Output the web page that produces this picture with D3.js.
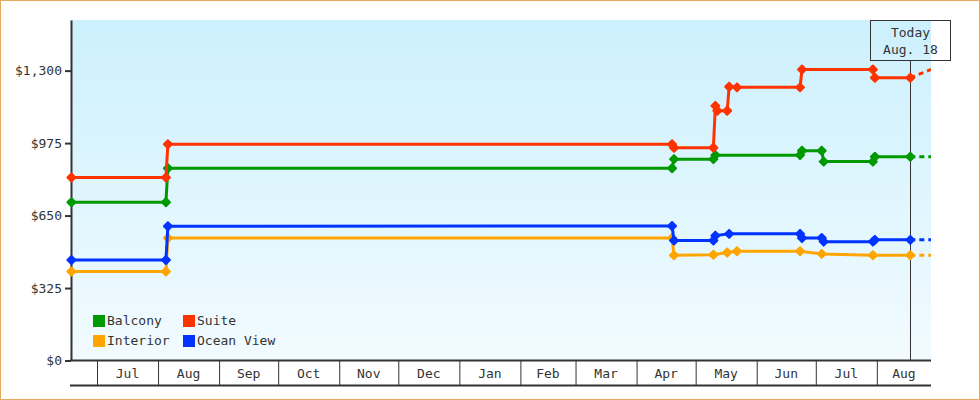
<!DOCTYPE html>
<html><head><meta charset="utf-8">
<script src="https://cdn.jsdelivr.net/npm/d3@7"></script>
<style>
html,body{margin:0;padding:0;background:#fff;}
svg{display:block;}
text{font-family:"DejaVu Sans Mono",monospace;font-size:13px;fill:#333;}
</style></head><body>
<svg id="chart" width="980" height="400"></svg>
<script>
// ---- data ----
const seriesNames = ["Balcony", "Suite", "Interior", "Ocean View"];
const seriesColors = ["#009900", "#ff3300", "#ffa500", "#0033ff"];

const balcony = [
  ["2017-06-18", 710], ["2017-08-05", 710], ["2017-08-06", 862], ["2018-04-19", 862],
  ["2018-04-20", 903], ["2018-05-10", 903], ["2018-05-11", 921], ["2018-06-23", 921],
  ["2018-06-24", 941], ["2018-07-04", 941], ["2018-07-05", 892], ["2018-07-30", 892],
  ["2018-07-31", 914], ["2018-08-18", 914]
];
const suite = [
  ["2017-06-18", 821], ["2017-08-05", 821], ["2017-08-06", 970], ["2018-04-19", 970],
  ["2018-04-20", 954], ["2018-05-10", 954], ["2018-05-11", 1142], ["2018-05-12", 1120],
  ["2018-05-17", 1120], ["2018-05-18", 1228], ["2018-05-22", 1225], ["2018-06-23", 1225],
  ["2018-06-24", 1305], ["2018-07-30", 1305], ["2018-07-31", 1268], ["2018-08-18", 1268]
];
const interior = [
  ["2017-06-18", 399], ["2017-08-05", 399], ["2017-08-06", 549], ["2018-04-19", 549],
  ["2018-04-20", 472], ["2018-05-10", 474], ["2018-05-17", 484], ["2018-05-22", 490],
  ["2018-06-23", 490], ["2018-07-04", 478], ["2018-07-30", 472], ["2018-08-18", 472]
];
const oceanView = [
  ["2017-06-18", 451], ["2017-08-05", 451], ["2017-08-06", 602], ["2018-04-19", 603],
  ["2018-04-20", 538], ["2018-05-10", 538], ["2018-05-11", 560], ["2018-05-18", 568],
  ["2018-06-23", 568], ["2018-06-24", 549], ["2018-07-04", 549], ["2018-07-05", 533],
  ["2018-07-30", 533], ["2018-07-31", 541], ["2018-08-18", 541]
];
// projected value at the end of the axis (dashed part)
const forecastValues = [914, 1305, 472, 541];

const yTicks = [0, 325, 650, 975, 1300];
const monthStarts = ["2017-07-01","2017-08-01","2017-09-01","2017-10-01","2017-11-01","2017-12-01",
  "2018-01-01","2018-02-01","2018-03-01","2018-04-01","2018-05-01","2018-06-01","2018-07-01","2018-08-01"];
const monthLabels = ["Jul","Aug","Sep","Oct","Nov","Dec","Jan","Feb","Mar","Apr","May","Jun","Jul","Aug"];
const todayDate = "2018-08-18";
const todayLabel = ["Today", "Aug. 18"];
const xDomain = ["2017-06-18T00:00", "2018-08-28T12:00"];
const yMax = 1527;

// ---- drawing ----
const parse = d3.timeParse("%Y-%m-%d");
const parseT = d3.timeParse("%Y-%m-%dT%H:%M");
const allSeries = [balcony, suite, interior, oceanView];

const L = 71.4, R = 931, T = 20, B = 360.5;
const svg = d3.select("#chart");

const x = d3.scaleTime().domain(xDomain.map(parseT)).range([L, R]);
const y = d3.scaleLinear().domain([0, yMax]).range([B, T]);

// border
svg.append("rect").attr("x", 0.5).attr("y", 0.5).attr("width", 979).attr("height", 399)
  .attr("fill", "#fff").attr("stroke", "#e8a862");

// background gradient
const defs = svg.append("defs");
const grad = defs.append("linearGradient").attr("id", "bg").attr("x1", 0).attr("y1", 0).attr("x2", 0).attr("y2", 1);
grad.append("stop").attr("offset", "0%").attr("stop-color", "#ccf0fd");
grad.append("stop").attr("offset", "100%").attr("stop-color", "#f2fbff");
defs.append("clipPath").attr("id", "clip").append("rect")
  .attr("x", 71).attr("y", T).attr("width", R - 71).attr("height", B - T);

svg.append("rect").attr("x", 71).attr("y", T).attr("width", R - 71).attr("height", B - T)
  .attr("fill", "url(#bg)");

// y axis
const yAxis = d3.axisLeft(y).tickValues(yTicks).tickSize(6).tickSizeOuter(0).tickPadding(3)
  .tickFormat(d => "$" + d3.format(",")(d));
const gy = svg.append("g").attr("transform", "translate(71,0)").call(yAxis);
gy.select(".domain").attr("stroke", "#333").attr("stroke-width", 2);
gy.selectAll(".tick line").attr("stroke", "#333").attr("stroke-width", 2);
gy.selectAll(".tick text").attr("fill", "#333").style("font-family", "DejaVu Sans Mono, monospace").style("font-size", "13px");

// x axis (month cells)
const monthDates = monthStarts.map(parse);
const xAxis = d3.axisBottom(x).tickValues(monthDates).tickSize(25).tickSizeOuter(0).tickFormat("");
const gx = svg.append("g").attr("transform", `translate(0,${B})`).call(xAxis);
gx.select(".domain").attr("stroke", "#333").attr("stroke-width", 2).attr("d", `M70,0H${R}`);
gx.selectAll(".tick line").attr("stroke", "#333").attr("stroke-width", 1);
svg.append("line").attr("x1", 70).attr("x2", R).attr("y1", 385.5).attr("y2", 385.5)
  .attr("stroke", "#333").attr("stroke-width", 2);
const edges = monthDates.map(d => x(d)).concat([R]);
svg.append("g").selectAll("text").data(monthLabels).join("text")
  .attr("x", (d, i) => (edges[i] + edges[i + 1]) / 2)
  .attr("y", 378).attr("text-anchor", "middle").text(d => d);

// today marker
const tx = Math.round(x(parse(todayDate))) + 0.5;
svg.append("line").attr("x1", tx).attr("x2", tx).attr("y1", 60.5).attr("y2", B)
  .attr("stroke", "#333").attr("stroke-width", 1);
svg.append("rect").attr("x", 870.5).attr("y", 20.5).attr("width", 80).attr("height", 40)
  .attr("fill", "none").attr("stroke", "#333").attr("stroke-width", 1);
svg.append("text").attr("x", tx).attr("y", 37).attr("text-anchor", "middle").text(todayLabel[0]);
svg.append("text").attr("x", tx).attr("y", 54).attr("text-anchor", "middle").text(todayLabel[1]);

// series
const line = d3.line().x(d => x(d[0])).y(d => y(d[1]));
const diamond = "M0,-4L4,0L0,4L-4,0Z";
allSeries.forEach((s, i) => {
  const pts = s.map(d => [parse(d[0]), d[1]]);
  const last = pts[pts.length - 1];
  const fc = [last, [x.domain()[1], forecastValues[i]]];
  svg.append("path").datum(fc).attr("d", line).attr("fill", "none")
    .attr("stroke", seriesColors[i]).attr("stroke-width", 3).attr("stroke-dasharray", "5,4")
    .attr("clip-path", "url(#clip)");
  svg.append("path").datum(pts).attr("d", line).attr("fill", "none")
    .attr("stroke", seriesColors[i]).attr("stroke-width", 3).attr("stroke-linejoin", "round");
  svg.append("g").selectAll("path").data(pts).join("path")
    .attr("d", diamond)
    .attr("transform", d => `translate(${x(d[0])},${y(d[1])})`)
    .attr("fill", seriesColors[i]).attr("stroke", seriesColors[i])
    .attr("stroke-width", 2).attr("stroke-linejoin", "round");
});

// legend
const legendPos = [[93, 315], [183, 315], [93, 335], [183, 335]];
const lg = svg.append("g").selectAll("g").data(seriesNames).join("g")
  .attr("transform", (d, i) => `translate(${legendPos[i][0]},${legendPos[i][1]})`);
lg.append("rect").attr("width", 12).attr("height", 12).attr("fill", (d, i) => seriesColors[i]);
lg.append("text").attr("x", 14).attr("y", 10).text(d => d);
</script>
</body></html>
